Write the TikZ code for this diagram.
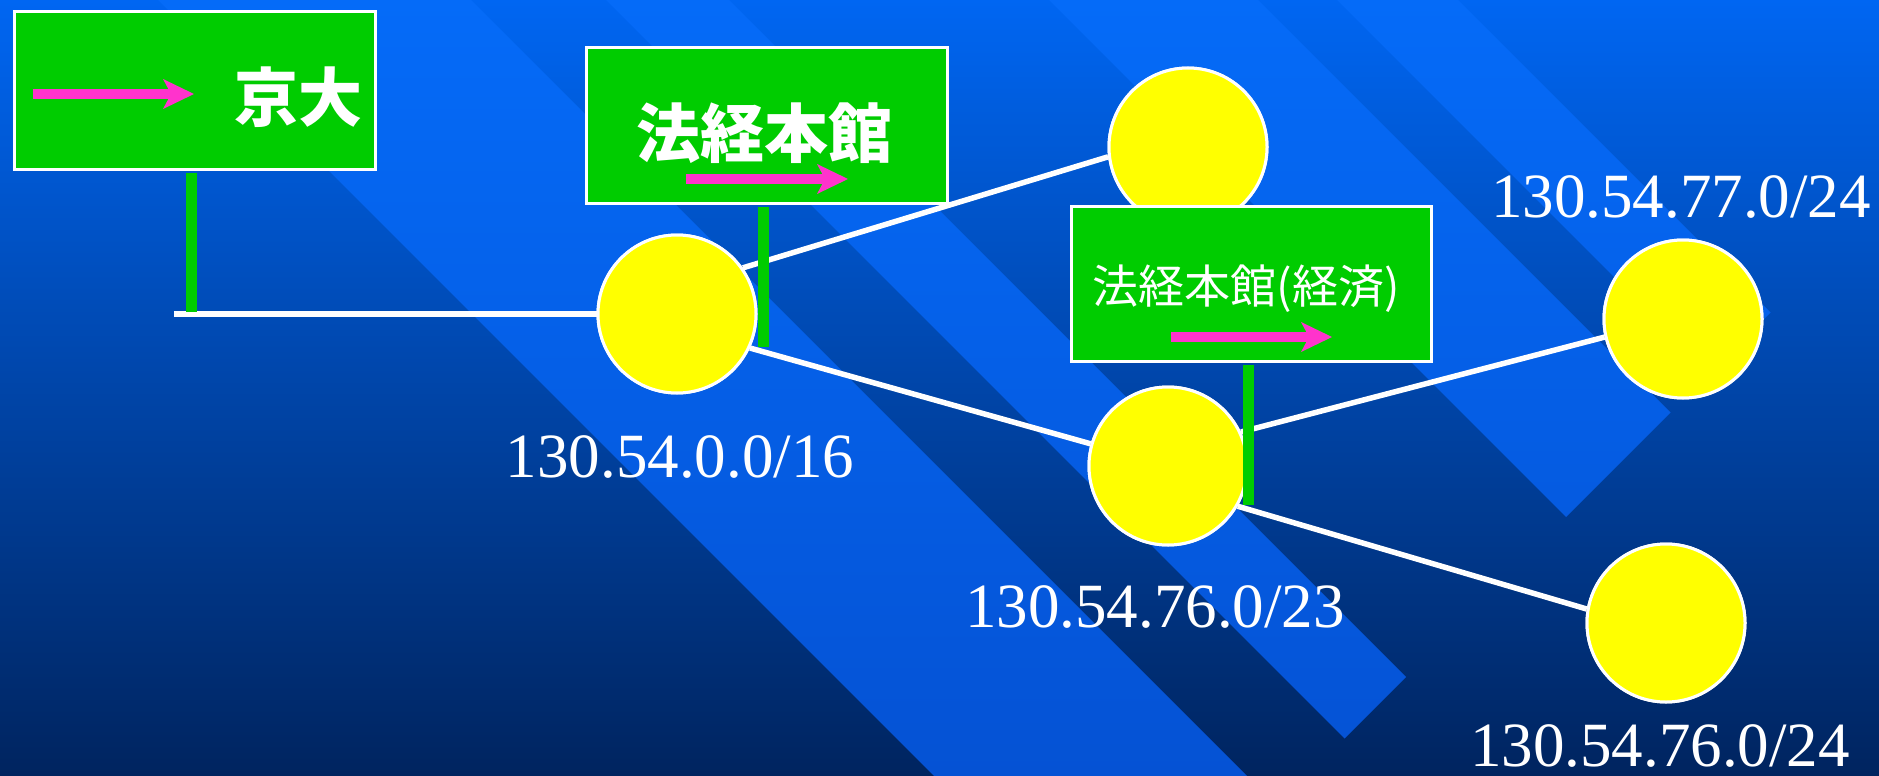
\documentclass[tikz,border=0pt]{standalone}
\usepackage{fontspec}
\setmainfont{Liberation Serif}
\newfontfamily\cjk{Noto Sans CJK JP}
\usetikzlibrary{arrows.meta}
\definecolor{bgtop}{HTML}{0066F2}
\definecolor{bgmid}{HTML}{004CC0}
\definecolor{bgbot}{HTML}{00245F}
\definecolor{bandtop}{HTML}{056BF8}
\definecolor{bandbot}{HTML}{0552D4}
\definecolor{signgreen}{HTML}{00CC00}
\definecolor{pinkarrow}{HTML}{FF33CC}
\definecolor{dotyellow}{HTML}{FFFF00}
\begin{document}
\begin{tikzpicture}[x=1pt,y=-1pt,
  signbox/.style={draw=white, line width=3pt, fill=signgreen, inner sep=0pt},
  pole/.style={draw=signgreen, line width=11pt},
  net/.style={draw=white, line width=5.5pt},
  dot/.style={circle, fill=dotyellow, draw=white, line width=3pt, minimum size=158pt, inner sep=0pt},
  pinkarr/.style={draw=pinkarrow, line width=10pt, -{Stealth[length=31pt,width=30pt,inset=8pt,line width=0pt]}},
  addr/.style={text=white, font=\fontsize{63}{70}\selectfont, inner sep=0pt, text depth=0pt, anchor=base},
  signtext/.style={text=white, inner sep=0pt, anchor=base}]
\useasboundingbox (0,0) rectangle (1879,776);
% background
\shade[top color=bgtop, middle color=bgmid, bottom color=bgbot] (0,0) rectangle (1879,776);
\begin{scope}
  \clip (153,-5) -- (466,-5) -- (1252,781) -- (939,781) -- cycle
        (601,-5) -- (724,-5) -- (1406,677) -- (1344.5,738.5) -- cycle
        (1044,-5) -- (1253,-5) -- (1670.5,412.5) -- (1566,517) -- cycle
        (1332,-5) -- (1453,-5) -- (1770.5,312.5) -- (1710,373) -- cycle;
  \shade[top color=bandtop, bottom color=bandbot] (0,0) rectangle (1879,776);
\end{scope}
% circles
\node[dot] (c1) at (677,314) {};
\node[dot] (ctop) at (1188,147) {};
\node[dot] (cmid) at (1168,466) {};
\node[dot] (cru) at (1683,319) {};
\node[dot] (crl) at (1666,623) {};
% links
\coordinate (wireA) at (174,314);
\draw[net] (wireA) -- (c1.west);
\draw[net] (c1.35) -- (ctop.187);
\draw[net] (c1.-25) -- (cmid.164);
\draw[net] (cmid.25) -- (cru.193);
\draw[net] (cmid.-30) -- (crl.170);
% redraw circles above link ends
\node[dot] at (c1) {};
\node[dot] at (ctop) {};
\node[dot] at (cmid) {};
\node[dot] at (cru) {};
\node[dot] at (crl) {};
% signs
\node[signbox, minimum width=361pt, minimum height=158pt] (kyodai) at (195,90.5) {};
\node[signbox, minimum width=361pt, minimum height=156pt] (keihon) at (767,125.5) {};
\node[signbox, minimum width=360pt, minimum height=155pt] (keizai) at (1251.5,284) {};
% poles
\coordinate (poleAend) at (191.5,312);
\coordinate (poleBend) at (763.5,347);
\coordinate (poleCend) at (1248,505);
\draw[pole] ([yshift=-1.5pt]poleAend |- kyodai.south) -- (poleAend);
\draw[pole] ([yshift=-1.5pt]poleBend |- keihon.south) -- (poleBend);
\draw[pole] ([yshift=-1.5pt]poleCend |- keizai.south) -- (poleCend);
% sign texts
\node[signtext, font=\cjk\bfseries\fontsize{64}{70}\selectfont] (kyodaitext) at (298,121) {京大};
\node[signtext, font=\cjk\bfseries\fontsize{64}{70}\selectfont] (keihontext) at (764,157) {法経本館};
\node[signtext, font=\cjk\fontsize{46}{52}\selectfont] (keizaitext) at (1246,303) {法経本館(経済)};
% pink arrows
\coordinate (aAs) at (33,94);   \coordinate (aAe) at (194,94);
\coordinate (aBs) at (686,179); \coordinate (aBe) at (848,179);
\coordinate (aCs) at (1171,337); \coordinate (aCe) at (1332,337);
\draw[pinkarr] (aAs) -- (aAe);
\draw[pinkarr] (aBs) -- (aBe);
\draw[pinkarr] (aCs) -- (aCe);
% address labels
\node[addr] (l1) at (680,477) {130.54.0.0/16};
\node[addr] (l2) at (1155,627) {130.54.76.0/23};
\node[addr] (l3) at (1681,217) {130.54.77.0/24};
\node[addr] (l4) at (1660,766) {130.54.76.0/24};
\end{tikzpicture}
\end{document}
